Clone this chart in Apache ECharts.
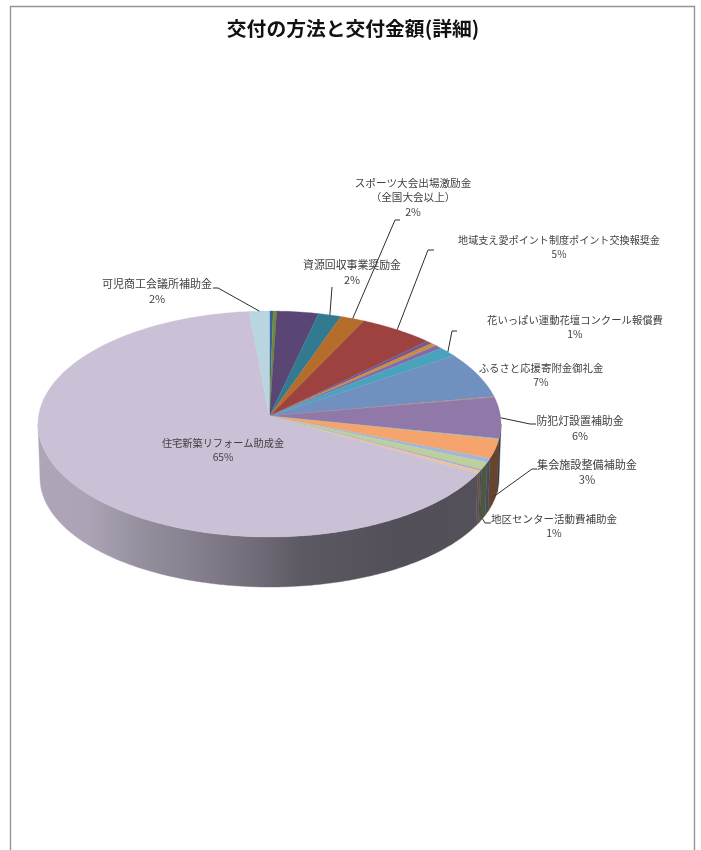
<!DOCTYPE html>
<html lang="ja">
<head>
<meta charset="utf-8">
<style>html,body{margin:0;padding:0;background:#fff}#c{width:701px;height:850px}</style>
<script src="https://cdn.jsdelivr.net/npm/echarts@6/dist/echarts.min.js"></script>
</head>
<body>
<div id="c"></div>
<script>
// ---- data (share of the whole, clockwise from the top) ----
const titleText = '交付の方法と交付金額(詳細)';
const sliceValues = [0.25, 0.25, 2.9, 1.6, 1.7, 5.2, 0.45, 0.35, 0.1, 0.5, 1.4, 6.4, 0.1, 5.85, 0.1, 2.8, 0.6, 1.05, 0.2, 0.1, 0.3, 66.4, 1.4];
const sliceColors = ['#35609a', '#6f8c35', '#5a4674', '#327a8f', '#b56d2c', '#9e4240', '#6f5a96', '#d9862f', '#8aa35c', '#8a68a8', '#4aa3bd', '#7090c0', '#c08a78', '#9079a8', '#6fbccb', '#f4a46c', '#a3b6d8', '#bccf9c', '#b0a0c4', '#a8d0dc', '#f4bd94', '#cac1d6', '#b9d5e0'];
const labelNames = ['可児商工会議所補助金', '資源回収事業奨励金', 'スポーツ大会出場激励金\n（全国大会以上）', '地域支え愛ポイント制度ポイント交換報奨金', '花いっぱい運動花壇コンクール報償費', 'ふるさと応援寄附金御礼金', '防犯灯設置補助金', '集会施設整備補助金', '地区センター活動費補助金', '住宅新築リフォーム助成金'];
const labelPercents = [2, 2, 2, 5, 1, 7, 6, 3, 1, 65];

// ---- layout and style ----
const labelSlices = [22, 3, 4, 5, 10, 11, 13, 15, 17, 21];
const labelBoxes = [[157, 284], [352, 265], [413, 183], [559, 240], [575, 320], [541, 368], [580, 421], [587, 465], [554, 519], [223, 443]];
const labelFontSizes = [11, 10.9, 10.6, 10.1, 10.35, 10.4, 10.9, 11.1, 10.5, 10.2];
// elbow points of the leader lines; wall = how far down the side the line starts
const leaderPaths = [[[218, 288], [213, 288]], [[332, 287]], [[395, 220], [400, 220]], [[428, 250], [434, 250]], [[452, 331], [457, 331]], null, [[530, 424], [536, 424]], [[532, 469], [537, 469]], [[485, 523], [491, 523]], null];
const leaderWall = [0, 0, 0, 0, 0, 0, 0, 0.9, 1, 0];
const apex = [269.5, 416];
const topRim = {cx: 269.5, cy: 424, rx: 231.5, ry: 113};
const bottomRim = {cx: 269.5, cy: 478, rx: 229.5, ry: 109};
const shadeStops = [[0, 0.86], [0.11, 0.85], [0.22, 0.74], [0.35, 0.66], [0.48, 0.55], [0.57, 0.46], [0.79, 0.41], [1, 0.42]];

const total = sliceValues.reduce((a, b) => a + b, 0);
const rimPoint = (rim, deg) => {
  const t = deg * Math.PI / 180;
  return [rim.cx + rim.rx * Math.sin(t), rim.cy - rim.ry * Math.cos(t)];
};
const startAngle = i => sliceValues.slice(0, i).reduce((a, b) => a + b, 0) / total * 360;
const endAngle = i => startAngle(i + 1);
const arc = (rim, a, b) => {
  const pts = [];
  const n = Math.max(1, Math.ceil(Math.abs(b - a)));
  for (let k = 0; k <= n; k++) pts.push(rimPoint(rim, a + (b - a) * k / n));
  return pts;
};
const shade = (hex, f) => {
  const n = parseInt(hex.slice(1), 16);
  return 'rgb(' + [(n >> 16) & 255, (n >> 8) & 255, n & 255].map(c => Math.round(c * f)).join(',') + ')';
};
const wallFill = hex => ({
  type: 'linear', x: topRim.cx - topRim.rx, y: 0, x2: topRim.cx + topRim.rx, y2: 0, global: true,
  colorStops: shadeStops.map(s => ({offset: s[0], color: shade(hex, s[1])}))
});

const chart = echarts.init(document.getElementById('c'), null, {renderer: 'canvas'});
chart.setOption({
  animation: false,
  backgroundColor: '#ffffff',
  title: {
    text: titleText, left: 348, top: 14, textAlign: 'center',
    textStyle: {fontFamily: '"Noto Sans CJK JP"', fontSize: 19.8, fontWeight: 'bold', color: '#111111'}
  },
  graphic: [{
    type: 'rect', silent: true, z: -1,
    shape: {x: 10.5, y: 6.5, width: 684, height: 900},
    style: {fill: '#ffffff', stroke: '#959595', lineWidth: 1.4}
  }],
  series: [{
    type: 'custom', coordinateSystem: 'none', silent: true, z: 2,
    data: sliceValues,
    renderItem(params) {
      const i = params.dataIndex;
      const a = Math.max(startAngle(i), 90), b = Math.min(endAngle(i), 270);
      if (b <= a) return {type: 'group', children: []};
      const fill = wallFill(sliceColors[i]);
      return {
        type: 'polygon',
        shape: {points: arc(topRim, a, b).concat(arc(bottomRim, b, a))},
        style: {fill, stroke: fill, lineWidth: 0.4}
      };
    }
  }, {
    type: 'custom', coordinateSystem: 'none', silent: true, z: 3,
    data: sliceValues,
    renderItem(params) {
      const i = params.dataIndex;
      return {
        type: 'polygon',
        shape: {points: [apex].concat(arc(topRim, startAngle(i), endAngle(i)))},
        style: {fill: sliceColors[i], stroke: sliceColors[i], lineWidth: 0.3}
      };
    }
  }, {
    type: 'custom', coordinateSystem: 'none', silent: true, z: 4,
    data: labelPercents,
    renderItem(params, api) {
      const i = params.dataIndex, s = labelSlices[i];
      const mid = (startAngle(s) + endAngle(s)) / 2;
      const top = rimPoint(topRim, mid), bot = rimPoint(bottomRim, mid), w = leaderWall[i];
      const from = [top[0] + (bot[0] - top[0]) * w, top[1] + (bot[1] - top[1]) * w];
      const children = [{
        type: 'text',
        style: {
          text: labelNames[i] + '\n' + api.value(0) + '%',
          x: labelBoxes[i][0], y: labelBoxes[i][1] - 7,
          align: 'center', verticalAlign: 'top', lineHeight: 14.3,
          fontFamily: '"Noto Sans CJK JP"', fontSize: labelFontSizes[i], fill: '#3f3f3f'
        }
      }];
      if (leaderPaths[i]) children.push({
        type: 'polyline',
        shape: {points: [from].concat(leaderPaths[i])},
        style: {fill: null, stroke: '#2f2f2f', lineWidth: 1}
      });
      return {type: 'group', children};
    }
  }]
});
</script>
</body>
</html>
